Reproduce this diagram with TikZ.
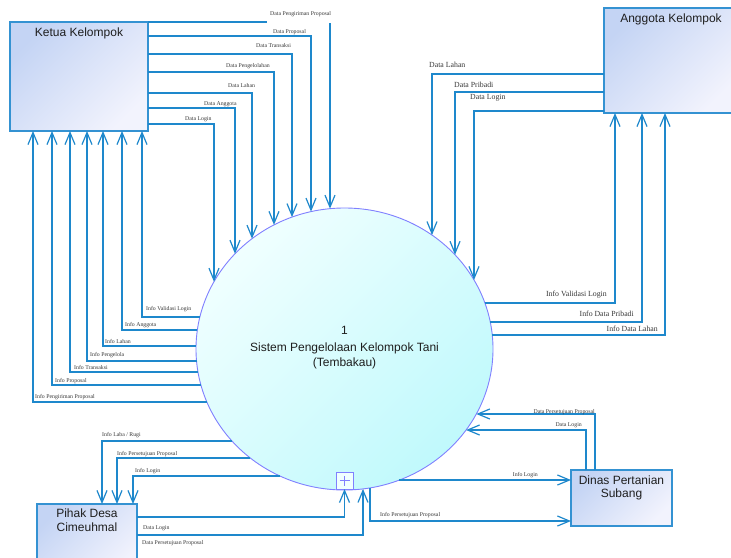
\documentclass[tikz,border=0pt]{standalone}
\usepackage{fontspec}
\setmainfont{Liberation Serif}
\setsansfont{Liberation Sans}
\usetikzlibrary{arrows.meta,shapes.geometric,calc}

\definecolor{flowc}{RGB}{30,136,204}
\definecolor{boxline}{RGB}{52,146,210}
\definecolor{boxA}{RGB}{196,212,244}
\definecolor{boxB}{RGB}{242,243,253}
\definecolor{procA}{RGB}{240,255,255}
\definecolor{procB}{RGB}{192,249,252}
\definecolor{procline}{RGB}{128,128,255}
\definecolor{txt}{RGB}{30,30,30}
\definecolor{lbl}{RGB}{55,55,55}

% geometry of the central process
\def\ecx{344.5}\def\ecy{349}\def\erx{148.5}\def\ery{141}

% point on the left (-1) or right (1) side of the process at height #3
\newcommand\sideat[3]{%
  \coordinate (#1) at ($(el.center)+({#2*\erx*sqrt(1-((#3-\ecy)/\ery)*((#3-\ecy)/\ery))},{#3-\ecy})$);}
% point on the top (-1) or bottom (1) of the process at abscissa #2
\newcommand\capat[3]{%
  \coordinate (#1) at ($(el.center)+({#2-\ecx},{#3*\ery*sqrt(1-((#2-\ecx)/\erx)*((#2-\ecx)/\erx))})$);}

\tikzset{
  entity/.style={draw=boxline, line width=1.2pt, rectangle, inner sep=0pt, outer sep=0pt,
    top color=boxA, bottom color=boxB, shading angle=45},
  process/.style={draw=procline, line width=0.9pt, ellipse, inner sep=0pt, outer sep=0pt,
    top color=procA, bottom color=procB, shading angle=45},
  plusbox/.style={draw=procline, line width=0.8pt, rectangle, inner sep=0pt, outer sep=0pt,
    minimum size=17pt, fill=procA},
  title/.style={font=\sffamily\fontsize{12}{14}\selectfont, text=txt, inner sep=0pt, align=center},
  flowline/.style={draw=flowc, line width=1.2pt},
  flow/.style={flowline, -{Straight Barb[length=12pt,width=10pt]}},
  lab/.style={font=\fontsize{5.8}{6}\selectfont, text=lbl, inner sep=0pt},
  labbig/.style={font=\fontsize{7.8}{8}\selectfont, text=lbl, inner sep=0pt},
}

\begin{document}
\begin{tikzpicture}[x=1pt,y=-1pt]
\clip (0,0) rectangle (731,557);
\fill[white] (0,0) rectangle (731,557);

% external entities
\node[entity, minimum width=138pt, minimum height=109pt] (ket) at (79,76.5) {};
\node[title, anchor=north] (ketT) at ([yshift=-5.5pt]ket.north) {Ketua Kelompok};

\node[entity, minimum width=134pt, minimum height=105pt] (ang) at (671,60.5) {};
\node[title, anchor=north] (angT) at ([yshift=-5.5pt]ang.north) {Anggota Kelompok};

\node[entity, minimum width=100pt, minimum height=71pt] (pih) at (87,539.5) {};
\node[title, anchor=north] (pihT) at ([yshift=-4.5pt]pih.north) {Pihak Desa\\Cimeuhmal};

\node[entity, minimum width=101pt, minimum height=56pt] (din) at (621.5,498) {};
\node[title, anchor=north, font=\sffamily\fontsize{12}{13}\selectfont] (dinT) at ([yshift=-5.5pt]din.north) {Dinas Pertanian\\Subang};

% the process
\node[process, minimum width=297pt, minimum height=282pt] (el) at (\ecx,\ecy) {};
\node[title, font=\sffamily\fontsize{12}{15.5}\selectfont] (elT) at ([yshift=1.3pt]el.center)
  {1\\[1.5pt]Sistem Pengelolaan Kelompok Tani\\(Tembakau)};
\node[plusbox] (plus) at (344.5,480.5) {};
\draw[procline, line width=0.8pt] ([xshift=-5pt]plus.center) -- ([xshift=5pt]plus.center)
  ([yshift=-5pt]plus.center) -- ([yshift=5pt]plus.center);

% Ketua Kelompok -> process
\coordinate (gapL) at (267,22);
\coordinate (gapR) at (330,23);
\capat{kp1}{330}{-1}
\draw[flowline] (ket.north east) -- (gapL);
\draw[flow] (gapR) -- (kp1);
\capat{kp2}{311}{-1}\draw[flow] (ket.east |- 0,36) -| (kp2);
\capat{kp3}{292}{-1}\draw[flow] (ket.east |- 0,54) -| (kp3);
\capat{kp4}{274}{-1}\draw[flow] (ket.east |- 0,72) -| (kp4);
\capat{kp5}{252}{-1}\draw[flow] (ket.east |- 0,93) -| (kp5);
\capat{kp6}{235}{-1}\draw[flow] (ket.east |- 0,108) -| (kp6);
\capat{kp7}{214}{-1}\draw[flow] (ket.east |- 0,124) -| (kp7);

\node[lab, anchor=west] (l1) at (270,14) {Data Pengiriman Proposal};
\node[lab, anchor=west] (l2) at (273,32) {Data Proposal};
\node[lab, anchor=west] (l3) at (256,46) {Data Transaksi};
\node[lab, anchor=west] (l4) at (226,66) {Data Pengelolahan};
\node[lab, anchor=west] (l5) at (228,86) {Data Lahan};
\node[lab, anchor=west] (l6) at (204,104) {Data Anggota};
\node[lab, anchor=west] (l7) at (185,119) {Data Login};

% process -> Ketua Kelompok
\sideat{kl1}{-1}{317}\draw[flow] (kl1) -| (ket.south -| 142,0);
\sideat{kl2}{-1}{330}\draw[flow] (kl2) -| (ket.south -| 122,0);
\sideat{kl3}{-1}{346}\draw[flow] (kl3) -| (ket.south -| 103,0);
\sideat{kl4}{-1}{361}\draw[flow] (kl4) -| (ket.south -| 87,0);
\sideat{kl5}{-1}{372}\draw[flow] (kl5) -| (ket.south -| 70,0);
\sideat{kl6}{-1}{385}\draw[flow] (kl6) -| (ket.south -| 52,0);
\sideat{kl7}{-1}{402}\draw[flow] (kl7) -| (ket.south -| 33,0);

\node[lab, anchor=west] (m1) at (146,309) {Info Validasi Login};
\node[lab, anchor=west] (m2) at (125,325) {Info Anggota};
\node[lab, anchor=west] (m3) at (105,341) {Info Lahan};
\node[lab, anchor=west] (m4) at (90,355) {Info Pengelola};
\node[lab, anchor=west] (m5) at (74,367) {Info Transaksi};
\node[lab, anchor=west] (m6) at (55,381) {Info Proposal};
\node[lab, anchor=west] (m7) at (35,397) {Info Pengiriman Proposal};

% Anggota Kelompok <-> process
\capat{ap1}{432}{-1}\draw[flow] (ang.west |- 0,74) -| (ap1);
\capat{ap2}{455}{-1}\draw[flow] (ang.west |- 0,92) -| (ap2);
\capat{ap3}{474}{-1}\draw[flow] (ang.west |- 0,111) -| (ap3);
\sideat{ar1}{1}{303}\draw[flow] (ar1) -| (ang.south -| 615,0);
\sideat{ar2}{1}{322}\draw[flow] (ar2) -| (ang.south -| 642,0);
\sideat{ar3}{1}{335}\draw[flow] (ar3) -| (ang.south -| 665,0);

\node[labbig, anchor=west] (n1) at (429,65) {Data Lahan};
\node[labbig, anchor=west] (n2) at (454,85) {Data Pribadi};
\node[labbig, anchor=west] (n3) at (470,98) {Data Login};
\node[labbig, anchor=east] (n4) at (607,295) {Info Validasi Login};
\node[labbig, anchor=east] (n5) at (634,314) {Info Data Pribadi};
\node[labbig, anchor=east] (n6) at (658,329) {Info Data Lahan};

% Pihak Desa <-> process
\sideat{pl1}{-1}{441}\draw[flow] (pl1) -| (pih.north -| 102,0);
\sideat{pl2}{-1}{458}\draw[flow] (pl2) -| (pih.north -| 117,0);
\sideat{pl3}{-1}{476}\draw[flow] (pl3) -| (pih.north -| 133,0);
\draw[flow] (pih.east |- 0,517) -| (plus.south);
\capat{pb1}{363}{1}\draw[flow] (pih.east |- 0,535) -| (pb1);

\node[lab, anchor=west] (o1) at (102,435) {Info Laba / Rugi};
\node[lab, anchor=west] (o2) at (117,454) {Info Persetujuan Proposal};
\node[lab, anchor=west] (o3) at (135,471) {Info Login};
\node[lab, anchor=west] (o4) at (143,528) {Data Login};
\node[lab, anchor=west] (o5) at (142,543) {Data Persetujuan Proposal};

% Dinas Pertanian <-> process
\sideat{dr1}{1}{414}\draw[flow] (din.north -| 595,0) |- (dr1);
\sideat{dr2}{1}{430}\draw[flow] (din.north -| 586,0) |- (dr2);
\sideat{dr3}{1}{480}\draw[flow] (dr3) -- (din.west |- 0,480);
\capat{db1}{370}{1}\draw[flow] (db1) |- (din.west |- 0,521);

\node[lab, anchor=east] (q1) at (595,412) {Data Persetujuan Proposal};
\node[lab, anchor=east] (q2) at (582,425) {Data Login};
\node[lab, anchor=east] (q3) at (538,475) {Info Login};
\node[lab, anchor=west] (q4) at (380,515) {Info Persetujuan Proposal};
\end{tikzpicture}
\end{document}
